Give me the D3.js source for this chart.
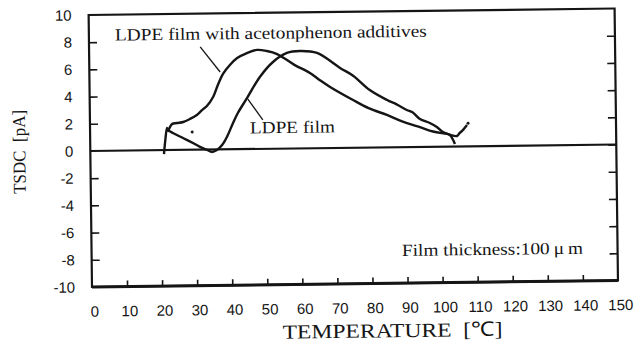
<!DOCTYPE html>
<html>
<head>
<meta charset="utf-8">
<script src="https://cdn.jsdelivr.net/npm/d3@7"></script>
<style>
  body { margin: 0; background: #fff; }
</style>
</head>
<body>
<div id="chart"></div>
<script>
// --------------------------------------
//  Data
// --------------------------------------

const tempTicks = [0, 10, 20, 30, 40, 50, 60, 70, 80, 90, 100, 110, 120, 130, 140, 150];
const tsdcTicks = [-10, -8, -6, -4, -2, 0, 2, 4, 6, 8, 10];

// [temperature degC, current pA]
const ldpeAdditive = [
  [22.2, 1.33], [23.4, 1.91], [24.8, 1.98], [26.6, 2.05], [28.5, 2.26], [30.5, 2.55],
  [32.0, 2.91], [33.4, 3.20], [35.2, 3.86], [36.6, 4.74], [38.1, 5.55], [40.1, 6.2],
  [42.2, 6.7], [45.0, 7.06], [47.9, 7.28], [50.7, 7.19], [53.6, 6.96], [58.5, 6.15],
  [62.9, 5.54], [65.7, 5.0], [68.6, 4.49], [75.1, 3.51], [79.5, 2.9], [84.7, 2.38],
  [89.0, 1.9], [94.1, 1.45], [97.8, 1.12], [101.8, 0.93], [104.6, 0.77], [105.4, 0.99],
  [106.3, 1.2], [107.5, 1.57]
];

const ldpe = [
  [21.0, -0.29], [21.4, 0.67], [21.95, 1.62], [22.2, 1.47], [23.6, 1.25], [26.5, 0.87],
  [29.3, 0.5], [31.3, 0.2], [33.3, -0.03], [34.7, -0.18], [36.1, -0.04], [37.6, 0.32],
  [39.0, 0.91], [40.8, 1.93], [42.2, 2.66], [44.9, 3.76], [48.6, 5.29], [52.4, 6.38],
  [56.4, 7.03], [60.1, 7.16], [65.0, 7.0], [71.5, 5.88], [75.2, 5.3], [79.9, 4.23],
  [84.8, 3.48], [87.5, 3.15], [90.4, 2.73], [92.0, 2.55], [94.1, 2.05], [96.9, 1.75],
  [98.9, 1.45], [100.6, 1.08], [102.6, 0.85], [103.5, 0.48], [104.0, 0.18]
];

const strayDots = [[29.1, 1.31], [107.8, 1.7]];

// text, anchor point [temp, pA]
const notes = [
  { text: "LDPE film with acetonphenon additives", at: [7.4, 8.1], len: 312 },
  { text: "LDPE film", at: [45.6, 1.15], len: 85 },
  { text: "Film thickness:100\u2009\u03bc\u2009m", at: [88.5, -8.0], len: 181 }
];
// leader lines [[t0, i0], [t1, i1]]
const leaders = [
  [[31.7, 7.55], [37.3, 5.69]],
  [[45.1, 3.68], [49.3, 2.13]]
];

// --------------------------------------
//  Canvas
// --------------------------------------

const W = 643, H = 347;
const margin = { top: 15, right: 25, bottom: 60, left: 92 };
const width = W - margin.left - margin.right;
const height = H - margin.top - margin.bottom;
const ink = "#151515";

const svg = d3.select("#chart")
  .append("svg")
  .attr("width", W)
  .attr("height", H);

// the scan is tilted a little, so tilt the whole drawing the same way
const g = svg.append("g")
  .attr("transform", "rotate(-0.71," + margin.left + "," + (margin.top + height) + ")");

const plot = g.append("g")
  .attr("transform", "translate(" + margin.left + "," + margin.top + ")");

// --------------------------------------
//  Scales
// --------------------------------------

const x = d3.scaleLinear().domain([0, 150]).range([0, width]);
const y = d3.scaleLinear().domain([-10, 10]).range([height, 0]);

// --------------------------------------
//  Axes
// --------------------------------------

const plain = d => String(d);   // keep the hyphen minus of the original

const left = plot.append("g")
  .call(d3.axisLeft(y).tickValues(tsdcTicks).tickSize(-8).tickPadding(17).tickFormat(plain));
const right = plot.append("g")
  .attr("transform", "translate(" + width + ",0)")
  .call(d3.axisRight(y).tickValues(tsdcTicks.filter(d => d > -10 && d < 10)).tickSize(-8).tickFormat(""));
const bottom = plot.append("g")
  .attr("transform", "translate(0," + height + ")")
  .call(d3.axisBottom(x).tickValues(tempTicks).tickSize(-6).tickPadding(19).tickFormat(plain));

[left, right, bottom].forEach(a => {
  a.attr("font-family", null).attr("font-size", null);
  a.select(".domain").remove();
  a.selectAll(".tick line").attr("stroke", ink).attr("stroke-width", 1.6);
  a.selectAll("text")
    .attr("fill", ink)
    .attr("font-family", "'Liberation Sans', Arial, sans-serif")
    .attr("font-size", 15);
});
left.selectAll(".tick").filter(d => d === 10 || d === -10 || d === 0).select("line").remove();
bottom.selectAll(".tick").filter(d => d === 0 || d === 150).select("line").remove();
bottom.selectAll("text").attr("dx", 2);

// frame
plot.append("rect")
  .attr("width", width)
  .attr("height", height)
  .attr("fill", "none")
  .attr("stroke", ink)
  .attr("stroke-width", 2.2);
plot.append("line")
  .attr("x1", 0).attr("x2", width)
  .attr("y1", height).attr("y2", height)
  .attr("stroke", ink).attr("stroke-width", 3);

// zero line
plot.append("line")
  .attr("x1", x(0)).attr("x2", x(150))
  .attr("y1", y(0)).attr("y2", y(0))
  .attr("stroke", ink)
  .attr("stroke-width", 2.2);

// --------------------------------------
//  Curves
// --------------------------------------

const line = d3.line()
  .x(d => x(d[0]))
  .y(d => y(d[1]))
  .curve(d3.curveCatmullRom.alpha(0.5));

plot.selectAll("path.curve")
  .data([ldpeAdditive, ldpe])
  .join("path")
  .attr("class", "curve")
  .attr("d", line)
  .attr("fill", "none")
  .attr("stroke", ink)
  .attr("stroke-width", 2.4)
  .attr("stroke-linejoin", "round");

plot.selectAll("circle")
  .data(strayDots)
  .join("circle")
  .attr("cx", d => x(d[0]))
  .attr("cy", d => y(d[1]))
  .attr("r", 1.5)
  .attr("fill", ink);

// --------------------------------------
//  Annotations
// --------------------------------------

plot.selectAll("line.leader")
  .data(leaders)
  .join("line")
  .attr("class", "leader")
  .attr("x1", d => x(d[0][0])).attr("y1", d => y(d[0][1]))
  .attr("x2", d => x(d[1][0])).attr("y2", d => y(d[1][1]))
  .attr("stroke", ink)
  .attr("stroke-width", 1.3);

plot.selectAll("text.note")
  .data(notes)
  .join("text")
  .attr("class", "note")
  .attr("x", d => x(d.at[0]))
  .attr("y", d => y(d.at[1]))
  .attr("textLength", d => d.len)
  .attr("lengthAdjust", "spacingAndGlyphs")
  .attr("font-family", "'Liberation Serif', 'Times New Roman', serif")
  .attr("font-size", 17)
  .attr("fill", ink)
  .text(d => d.text);

// axis titles
g.append("text")
  .attr("transform", "translate(27," + (margin.top + y(0)) + ") rotate(-90)")
  .attr("x", -42)
  .attr("textLength", 84)
  .attr("lengthAdjust", "spacingAndGlyphs")
  .attr("font-family", "'Liberation Serif', 'Times New Roman', serif")
  .attr("font-size", 18)
  .attr("fill", ink)
  .text("TSDC\u00a0\u00a0[pA]");

g.append("text")
  .attr("x", 282)
  .attr("y", 341)
  .attr("textLength", 220)
  .attr("lengthAdjust", "spacingAndGlyphs")
  .attr("font-family", "'Liberation Serif', 'Times New Roman', serif")
  .attr("font-size", 20)
  .attr("fill", ink)
  .text("TEMPERATURE\u00a0\u00a0[\u2103]");
</script>
</body>
</html>
